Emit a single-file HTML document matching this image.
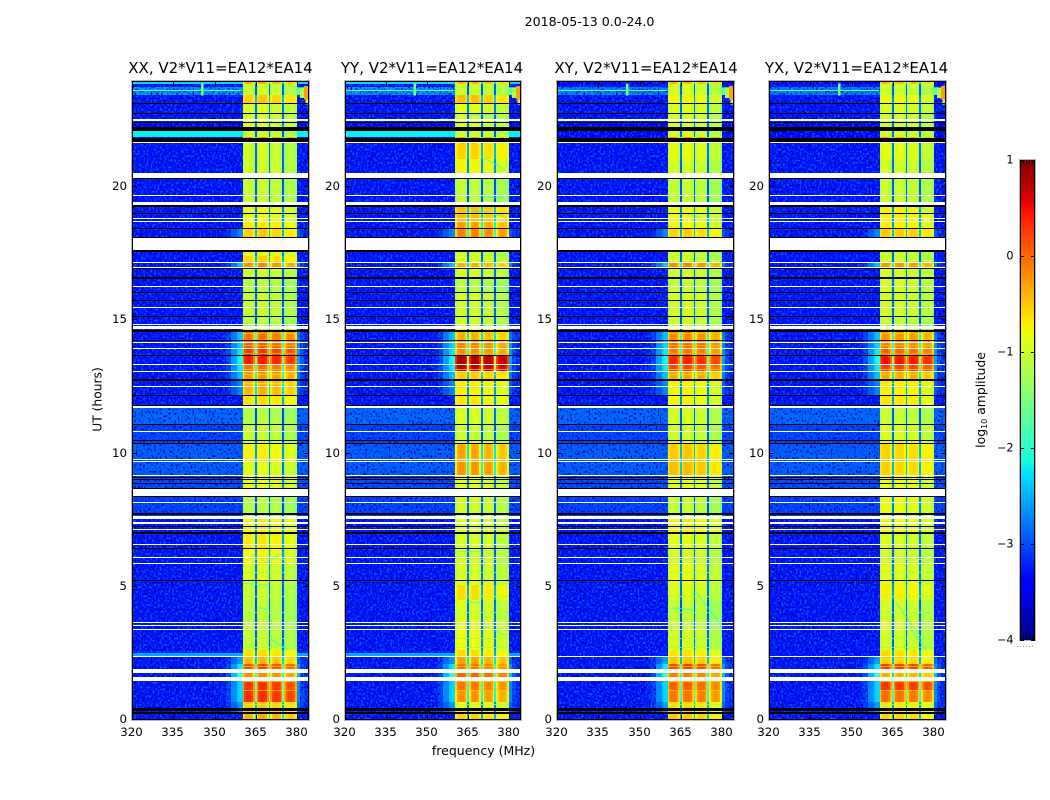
<!DOCTYPE html>
<html lang="en">
<head>
<meta charset="utf-8">
<title>2018-05-13 0.0-24.0</title>
<style>
html,body{margin:0;padding:0;background:#fff;}
svg{display:block;}
text{font-family:"DejaVu Sans","Liberation Sans",sans-serif;fill:#000;}
</style>
</head>
<body>
<svg id="figure" xmlns="http://www.w3.org/2000/svg" width="1050" height="800" viewBox="0 0 1050 800">
  <defs>
    <filter id="grain-light" x="0" y="0" width="100%" height="100%" color-interpolation-filters="sRGB">
      <feTurbulence type="fractalNoise" baseFrequency="0.55 0.45" numOctaves="1" seed="3"/>
      <feColorMatrix type="matrix" values="0 0 0 0 0  0 0 0 0 0.38  0 0 0 0 1  5 0 0 0 -2.55"/>
    </filter>
    <filter id="grain-dark" x="0" y="0" width="100%" height="100%" color-interpolation-filters="sRGB">
      <feTurbulence type="fractalNoise" baseFrequency="0.55 0.45" numOctaves="1" seed="11"/>
      <feColorMatrix type="matrix" values="0 0 0 0 0  0 0 0 0 0  0 0 0 0 0.6  5 0 0 0 -2.6"/>
    </filter>
  </defs>
  <text x="589.5" y="26" font-size="12.6" text-anchor="middle">2018-05-13 0.0-24.0</text>
  <text x="483.5" y="755" font-size="12.5" text-anchor="middle">frequency (MHz)</text>
  <text transform="translate(101.5,399.5) rotate(-90)" font-size="12.3" text-anchor="middle">UT (hours)</text>
  <text transform="translate(985,400) rotate(-90)" font-size="12.4" text-anchor="middle">log<tspan font-size="8" dy="2">10</tspan><tspan dy="-2"> amplitude</tspan></text>
  <g id="plots"></g>
  <g id="colorbar"></g>
</svg>
<script>
// ---- chart data (UT hours, MHz, log10 amplitude) ----
const polarisations = ['XX', 'YY', 'XY', 'YX'];
const baselineLabel = 'V2*V11=EA12*EA14';
const freqTicks = [320, 335, 350, 365, 380];
const utTicks = [0, 5, 10, 15, 20];
const colorTicks = [1, 0, -1, -2, -3, -4];

const channelEdges = [320, 350, 352, 354, 356, 358, 359, 360.2, 360.8, 361.6, 363.4, 364.1, 364.6, 365.3, 365.9, 366.6, 368.4, 369.1, 369.7, 370.3, 370.9, 371.6, 373.4, 374.1, 374.6, 375.3, 375.9, 376.6, 378.4, 379.1, 379.9, 381, 382.5, 384];
const channelSubband = [-1, -1, -1, -1, -1, -1, -1, 0, 0, 0, 0, 0, 9, 1, 1, 1, 1, 1, 9, 2, 2, 2, 2, 2, 9, 3, 3, 3, 3, 3, -1, -1, -1];
const channelGain = [0, 0, 0, 0, 0, 0, 0, -0.2, -0.04, 0, -0.04, -0.2, -1.9, -0.2, -0.04, 0, -0.04, -0.2, -1.9, -0.2, -0.04, 0, -0.04, -0.2, -1.9, -0.2, -0.04, 0, -0.04, -0.2, 0, 0, 0];
const skirtWeight = [0, 0, 0.05, 0.25, 0.6, 0.9, 1, 0, 0, 0, 0, 0, 0, 0, 0, 0, 0, 0, 0, 0, 0, 0, 0, 0, 0, 0, 0, 0, 0, 0, 0.6, 0.3, 0.1];

const subbandOffsetXX = [0.02, 0.05, -0.02, -0.12];
const subbandOffsetYY = [0.05, 0.05, -0.03, -0.12];
const subbandOffsetXY = [0.05, 0.07, 0, -0.15];
const subbandOffsetYX = [0.05, 0.03, 0, -0.12];

const segmentEndUT = [0.19, 0.64, 1.09, 1.43, 1.88, 2.07, 2.33, 2.48, 2.59, 3.34, 4.47, 5.03, 5.82, 6.40, 7.00, 7.50, 8.33, 9.12, 9.65, 10.35, 11.05, 11.67, 12.15, 12.75, 13.02, 13.32, 13.63, 13.90, 14.14, 14.60, 15.12, 15.72, 15.99, 16.55, 16.92, 17.13, 17.37, 18.04, 18.39, 18.69, 19.24, 20.30, 21.0, 21.62, 21.83, 22.07, 22.40, 22.74, 23.11, 23.42, 23.70, 23.83, 23.94];

const bandXX = [-0.35, -0.55, 0.3, 0.28, -0.2, 0.15, -0.45, -0.65, -0.65, -1.05, -1.1, -1.05, -0.95, -0.8, -0.7, -0.75, -1.15, -0.85, -0.9, -0.75, -1.05, -1.15, -0.65, -0.4, -0.25, -0.05, 0.4, 0.25, 0.05, -0.05, -1.15, -1.05, -1.05, -1.15, -1, -0.2, -0.6, -0.85, -0.55, -0.7, -0.85, -1.05, -1, -1, -0.25, -1.05, -0.9, -1, -0.95, -0.55, -1.05, -1, -0.4];
const bandYY = [-0.6, -0.85, -0.25, -0.1, 0, -0.1, -0.35, -0.65, -0.65, -0.85, -0.95, -0.65, -0.95, -1, -0.95, -0.95, -1, -0.9, -0.25, -0.35, -1.05, -0.95, -0.7, -0.75, -0.55, 0.7, 0.8, -0.2, -0.15, -0.4, -1.05, -1, -1, -1.15, -0.95, -0.4, -1, -1.05, -0.15, -0.3, -0.5, -1.1, -0.8, -0.6, -0.3, -1.05, -0.95, -1, -0.9, -0.5, -1.05, -1, -0.45];
const bandXY = [-0.55, -0.65, -0.1, 0, -0.15, 0.15, -0.55, -0.7, -0.7, -1, -1.1, -0.95, -0.9, -1, -0.9, -0.75, -1.1, -0.9, -0.5, -0.55, -1.05, -1, -0.8, -0.8, -0.35, 0.15, 0.35, -0.1, -0.05, -0.2, -1.05, -1, -1, -1.1, -1, -0.2, -1.05, -1.05, -0.6, -0.85, -0.85, -1.1, -1, -0.9, -0.2, -1, -1, -1, -0.95, -0.8, -1, -1, -0.45];
const bandYX = [-0.6, -0.7, -0.05, 0.25, -0.4, 0.2, -0.6, -0.65, -0.65, -1, -1, -0.75, -0.9, -1, -0.95, -0.8, -0.85, -0.85, -0.6, -0.6, -0.95, -1.05, -0.7, -0.75, -0.35, 0.2, 0.45, 0, -0.15, -0.25, -1.1, -1, -1, -1, -0.95, -0.25, -1.05, -1.05, -0.55, -0.75, -0.75, -1.05, -1, -0.9, -0.3, -1, -1, -1, -0.95, -0.8, -1.05, -1, -0.45];

const backgroundParallel = [-3.3, -3.3, -3.3, -3.3, -3.3, -3.3, -3.3, -2.55, -3.3, -3.3, -3.3, -3.3, -3.3, -3.3, -3.3, -3.3, -3.05, -3.0, -2.9, -2.9, -3.05, -2.85, -3.3, -3.3, -3.3, -3.3, -3.3, -3.3, -3.3, -3.3, -3.3, -3.3, -3.3, -3.3, -3.3, -3.3, -3.3, -3.3, -3.3, -3.3, -3.3, -3.3, -3.3, -3.3, -3.4, -2.2, -3.4, -3.3, -3.3, -3.3, -2.6, -3.3, -2.3];
const backgroundCross = [-3.3, -3.3, -3.3, -3.3, -3.3, -3.3, -3.3, -3.3, -3.3, -3.3, -3.3, -3.3, -3.3, -3.3, -3.3, -3.3, -3.05, -3.0, -2.9, -2.9, -3.05, -2.85, -3.3, -3.3, -3.3, -3.3, -3.3, -3.3, -3.3, -3.3, -3.3, -3.3, -3.3, -3.3, -3.3, -3.3, -3.3, -3.3, -3.3, -3.3, -3.3, -3.3, -3.3, -3.3, -3.4, -3.4, -3.4, -3.3, -3.3, -3.3, -2.7, -3.3, -3.4];
const skirtLevel = [null, -2.6, -2.3, -2.3, -1.9, -2.2, -2.6, null, null, null, null, null, null, null, null, null, null, null, null, null, null, null, null, -2.7, -2.4, -2.2, -2.1, -2.2, -2.3, -2.4, null, null, null, null, null, -2.4, null, null, -2.7, null, null, null, null, null, null, null, null, null, null, null, null, null, null];

const whiteFlagStart = [1.43, 1.72, 2.33, 3.33, 3.49, 3.59, 5.81, 6.03, 6.52, 7.08, 7.33, 7.49, 8.12, 8.37, 9.12, 9.66, 9.73, 10.76, 11.66, 12.46, 13.02, 13.28, 13.87, 14.12, 14.62, 14.78, 15.42, 16.22, 16.95, 17.10, 17.60, 18.66, 18.75, 19.29, 19.62, 20.30, 21.61, 22.44, 22.50];
const whiteFlagEnd = [1.59, 1.86, 2.36, 3.38, 3.54, 3.63, 5.84, 6.07, 6.57, 7.13, 7.38, 7.62, 8.15, 8.63, 9.16, 9.69, 9.77, 10.80, 11.76, 12.50, 13.06, 13.32, 13.91, 14.16, 14.76, 14.84, 15.46, 16.26, 16.97, 17.14, 18.04, 18.70, 18.79, 19.40, 19.65, 20.50, 21.65, 22.48, 22.53];
const blackFlagStart = [0.19, 0.31, 5.18, 6.38, 6.95, 7.20, 7.65, 8.33, 8.63, 8.80, 8.96, 9.06, 10.32, 10.46, 11.03, 11.76, 12.12, 12.70, 13.62, 14.20, 14.54, 15.08, 15.70, 15.97, 16.52, 16.89, 17.51, 18.04, 18.39, 18.95, 19.22, 20.25, 21.65, 22.08, 22.36, 22.71, 23.09];
const blackFlagEnd = [0.28, 0.40, 5.22, 6.42, 7.02, 7.24, 7.72, 8.37, 8.67, 8.84, 8.99, 9.09, 10.36, 10.48, 11.08, 11.79, 12.16, 12.74, 13.66, 14.23, 14.58, 15.12, 15.73, 16.01, 16.60, 16.93, 17.59, 18.07, 18.42, 18.97, 19.29, 20.29, 21.79, 22.20, 22.40, 22.74, 23.11];

const rfiFreqStart = [320, 345, 380, 381, 382.5, 383];
const rfiFreqEnd = [360, 346, 381, 382.5, 384, 384];
const rfiUTStart = [23.56, 23.4, 23.42, 23.3, 23.25, 23.05];
const rfiUTEnd = [23.6, 23.85, 23.7, 23.7, 23.75, 23.25];
const rfiLevel = [-1.7, -1.5, -1.7, -1.2, -0.3, -1];

// thin in-band rows that are dimmer than their neighbours
const dimRowUT = [0.58, 1.09, 1.41, 1.99, 2.72, 3.05, 4.0, 4.62, 5.5, 6.0, 12.6, 12.93, 13.15, 13.73, 14.03, 14.48];
const dimRowLevel = [-1.2, -0.5, -0.6, -0.5, -1.3, -1.3, -1.35, -1.3, -1.3, -1.2, -0.7, -0.6, -0.5, -0.4, -0.5, -0.5];

// drifting interference tracks inside the band: f0, ut0, f1, ut1
const streaksXX = [[365.8, 4.19, 370, 4.09], [370, 3.03, 376.7, 2.61], [361, 5.09, 369.3, 5.03], [368.2, 5.85, 374.8, 6.23], [368.8, 22.48, 376, 22.2]];
const streaksYY = [[361.7, 6.28, 370, 6.28], [371.4, 3.46, 378.6, 3.15], [364.6, 4.4, 370, 4.35], [365.3, 22.66, 376.2, 22.7], [370, 21.1, 378.6, 20.6], [371.4, 19.6, 378.6, 19.55], [366.4, 19.1, 378.6, 18.85]];
const streaksXY = [[362, 4.17, 369.3, 4.1], [370.6, 4.78, 380, 3.46], [366, 19.0, 376, 18.7]];
const streaksYX = [[366.3, 4.34, 376, 2.96], [369.9, 3.6, 377.2, 2.59], [370, 19.3, 378, 19.1]];

const bandByPol = [bandXX, bandYY, bandXY, bandYX];
const offsetByPol = [subbandOffsetXX, subbandOffsetYY, subbandOffsetXY, subbandOffsetYX];
const bgByPol = [backgroundParallel, backgroundParallel, backgroundCross, backgroundCross];
const streaksByPol = [streaksXX, streaksYY, streaksXY, streaksYX];

// ---- layout ----
const NS = 'http://www.w3.org/2000/svg';
const panelLeft = [132, 345, 557, 769];
const panelRight = [308, 520, 733, 945];
const titleCentre = [220.5, 432, 646, 856.5];
const plotTop = 81, plotBottom = 719;
const fMin = 320, fMax = 384, utMin = 0, utMax = 23.94, vMin = -4, vMax = 1;

function lerpTable(t, xs, ys) {
  for (let i = 1; i < xs.length; i++) {
    if (t <= xs[i]) return ys[i - 1] + (ys[i] - ys[i - 1]) * (t - xs[i - 1]) / (xs[i] - xs[i - 1]);
  }
  return ys[ys.length - 1];
}
function jet(level) {
  const t = Math.max(0, Math.min(1, (level - vMin) / (vMax - vMin)));
  const r = lerpTable(t, [0, 0.35, 0.66, 0.89, 1], [0, 0, 1, 1, 0.5]);
  const g = lerpTable(t, [0, 0.125, 0.375, 0.64, 0.91, 1], [0, 0, 1, 1, 0, 0]);
  const b = lerpTable(t, [0, 0.11, 0.34, 0.65, 1], [0.5, 1, 1, 0, 0]);
  return 'rgb(' + Math.round(r * 255) + ',' + Math.round(g * 255) + ',' + Math.round(b * 255) + ')';
}
function mk(tag, parent, attrs) {
  const el = document.createElementNS(NS, tag);
  for (const k in attrs) el.setAttribute(k, attrs[k]);
  parent.appendChild(el);
  return el;
}
function yScale(ut) { return plotBottom - (ut - utMin) / (utMax - utMin) * (plotBottom - plotTop); }

const plots = document.getElementById('plots');

polarisations.forEach(function (pol, p) {
  const L = panelLeft[p], R = panelRight[p];
  const xScale = function (f) { return L + (f - fMin) / (fMax - fMin) * (R - L); };
  const g = mk('g', plots, {});
  
  

  const title = mk('text', g, { x: titleCentre[p], y: 73, 'font-size': 15, 'text-anchor': 'middle' });
  title.textContent = pol + ', ' + baselineLabel;
  
  

  const cells = mk('g', g, { 'shape-rendering': 'crispEdges' });
  
  

  // background speckle over the out-of-band channels
  [[fMin, 360.2], [379.9, fMax]].forEach(function (range) {
    ['grain-dark', 'grain-light'].forEach(function (id) {
      const gr = mk('rect', g, { x: Math.round(xScale(range[0])), y: plotTop, width: Math.round(xScale(range[1])) - Math.round(xScale(range[0])), height: plotBottom - plotTop, filter: 'url(#' + id + ')' });
      
      
    });
  });

  const cleanCells = mk('g', g, { 'shape-rendering': 'crispEdges' });
  
  

  segmentEndUT.forEach(function (utEnd, s) {
    const utStart = s === 0 ? utMin : segmentEndUT[s - 1];
    const y1 = Math.round(yScale(utEnd)), y0 = Math.round(yScale(utStart));
    if (y0 <= y1) return;
    const bg = bgByPol[p][s], band = bandByPol[p][s], skirt = skirtLevel[s];
    for (let c = 0; c < channelEdges.length - 1; c++) {
      const sb = channelSubband[c];
      const edgeBoost = band > -0.5 ? 2.5 : 1;
      let value, parent = cells;
      if (sb === 9) value = band + channelGain[c];
      else if (sb >= 0) value = band + offsetByPol[p][sb] + channelGain[c] * edgeBoost;
      else {
        value = skirt === null ? bg : bg + (skirt - bg) * skirtWeight[c];
        if (bg > -2.6 || (skirt !== null && skirtWeight[c] >= 0.5)) parent = cleanCells;
      }
      const x0 = Math.round(xScale(channelEdges[c])), x1 = Math.round(xScale(channelEdges[c + 1]));
      const cell = mk('rect', parent, { x: x0, y: y1, width: Math.max(1, x1 - x0), height: y0 - y1, fill: jet(value) });
      
      
    }
  });

  dimRowUT.forEach(function (ut, i) {
    const r = mk('rect', g, { x: Math.round(xScale(360.2)), y: Math.round(yScale(ut)), width: Math.round(xScale(379.9)) - Math.round(xScale(360.2)), height: 1, fill: jet(dimRowLevel[i]), opacity: 0.75, 'shape-rendering': 'crispEdges' });
    
    
  });

  streaksByPol[p].forEach(function (st) {
    const l = mk('line', g, { x1: xScale(st[0]), y1: yScale(st[1]), x2: xScale(st[2]), y2: yScale(st[3]), stroke: jet(-2.1), 'stroke-width': 1.2, opacity: 0.6 });
    
    
  });

  rfiLevel.forEach(function (lv, i) {
    const r = mk('rect', g, { x: xScale(rfiFreqStart[i]), y: yScale(rfiUTEnd[i]), width: Math.max(1, xScale(rfiFreqEnd[i]) - xScale(rfiFreqStart[i])), height: Math.max(1, yScale(rfiUTStart[i]) - yScale(rfiUTEnd[i])), fill: jet(lv), 'shape-rendering': 'crispEdges' });
    
    
  });

  blackFlagStart.forEach(function (t0, i) {
    const y1 = Math.round(yScale(blackFlagEnd[i])), y0 = Math.round(yScale(t0));
    const r = mk('rect', g, { x: L, y: y1, width: R - L, height: Math.max(1, y0 - y1), fill: '#000', 'shape-rendering': 'crispEdges' });
    
    
  });
  whiteFlagStart.forEach(function (t0, i) {
    const y1 = Math.round(yScale(whiteFlagEnd[i])), y0 = Math.round(yScale(t0));
    const r = mk('rect', g, { x: L, y: y1, width: R - L, height: Math.max(1, y0 - y1), fill: '#fff', 'shape-rendering': 'crispEdges' });
    
    
  });

  const outer = mk('rect', g, { x: L - 0.5, y: plotTop - 0.5, width: R - L + 2, height: plotBottom - plotTop + 2, fill: 'none', stroke: '#b4b4b4', 'stroke-width': 1 });
  
  
  const frame = mk('rect', g, { x: L + 0.5, y: plotTop + 0.5, width: R - L, height: plotBottom - plotTop, fill: 'none', stroke: '#000', 'stroke-width': 1 });
  
  

  freqTicks.forEach(function (f) {
    const x = Math.round(xScale(f)) + 0.5;
    const tb = mk('line', g, { x1: x, x2: x, y1: plotBottom, y2: plotBottom - 4, stroke: '#000', 'stroke-width': 1 });
    
    
    const tt = mk('line', g, { x1: x, x2: x, y1: plotTop + 1, y2: plotTop + 5, stroke: '#000', 'stroke-width': 1 });
    
    
    const lb = mk('text', g, { x: x - 1, y: 736, 'font-size': 11.8, 'text-anchor': 'middle' });
    lb.textContent = f;
    
    
  });
  utTicks.forEach(function (u) {
    const y = Math.round(yScale(u)) + 0.5;
    const tl = mk('line', g, { x1: L + 1, x2: L + 5, y1: y, y2: y, stroke: '#000', 'stroke-width': 1 });
    
    
    const tr = mk('line', g, { x1: R, x2: R - 4, y1: y, y2: y, stroke: '#000', 'stroke-width': 1 });
    
    
    const lb = mk('text', g, { x: L - 5, y: y + 3.5, 'font-size': 11.8, 'text-anchor': 'end' });
    lb.textContent = u;
    
    
  });
});

// ---- colorbar ----
const cb = document.getElementById('colorbar');
const cbLeft = 1020, cbRight = 1035, cbTop = 160, cbBottom = 640;
function cbScale(v) { return cbBottom - (v - vMin) / (vMax - vMin) * (cbBottom - cbTop); }
for (let py = cbTop; py < cbBottom; py++) {
  const v = vMax - (py + 0.5 - cbTop) / (cbBottom - cbTop) * (vMax - vMin);
  const strip = mk('rect', cb, { x: cbLeft, y: py, width: cbRight - cbLeft, height: 1, fill: jet(v), 'shape-rendering': 'crispEdges' });
  
  
}
const cbOuter = mk('rect', cb, { x: cbLeft - 0.5, y: cbTop - 0.5, width: cbRight - cbLeft + 1, height: cbBottom - cbTop + 1, fill: 'none', stroke: '#b4b4b4' });


[cbLeft + 0.5, cbRight - 0.5].forEach(function (x) {
  const side = mk('line', cb, { x1: x, x2: x, y1: cbTop, y2: cbBottom, stroke: '#000' });
  
  
});
colorTicks.forEach(function (v) {
  const y = Math.round(cbScale(v)) + 0.5;
  const t1 = mk('line', cb, { x1: cbLeft, x2: cbLeft + 4, y1: y, y2: y, stroke: '#000' });
  
  
  const t2 = mk('line', cb, { x1: cbRight, x2: cbRight - 4, y1: y, y2: y, stroke: '#000' });
  
  
  const lb = mk('text', cb, { x: 1013.5, y: y + 3, 'font-size': 11.2, 'text-anchor': 'end' });
  lb.textContent = String(v).replace('-', '\u2212');
  
  
});
const cbEnds = mk('path', cb, { d: 'M1023.5 160v4M1026.5 160v4M1029.5 160v4M1032.5 160v4M1023.5 640v-4M1026.5 640v-4M1029.5 640v-4M1032.5 640v-4', stroke: '#000', fill: 'none' });


const cbDots = mk('line', cb, { x1: 1017, x2: 1035, y1: 646.5, y2: 646.5, stroke: '#999', 'stroke-dasharray': '1 2' });


</script>
</body>
</html>
